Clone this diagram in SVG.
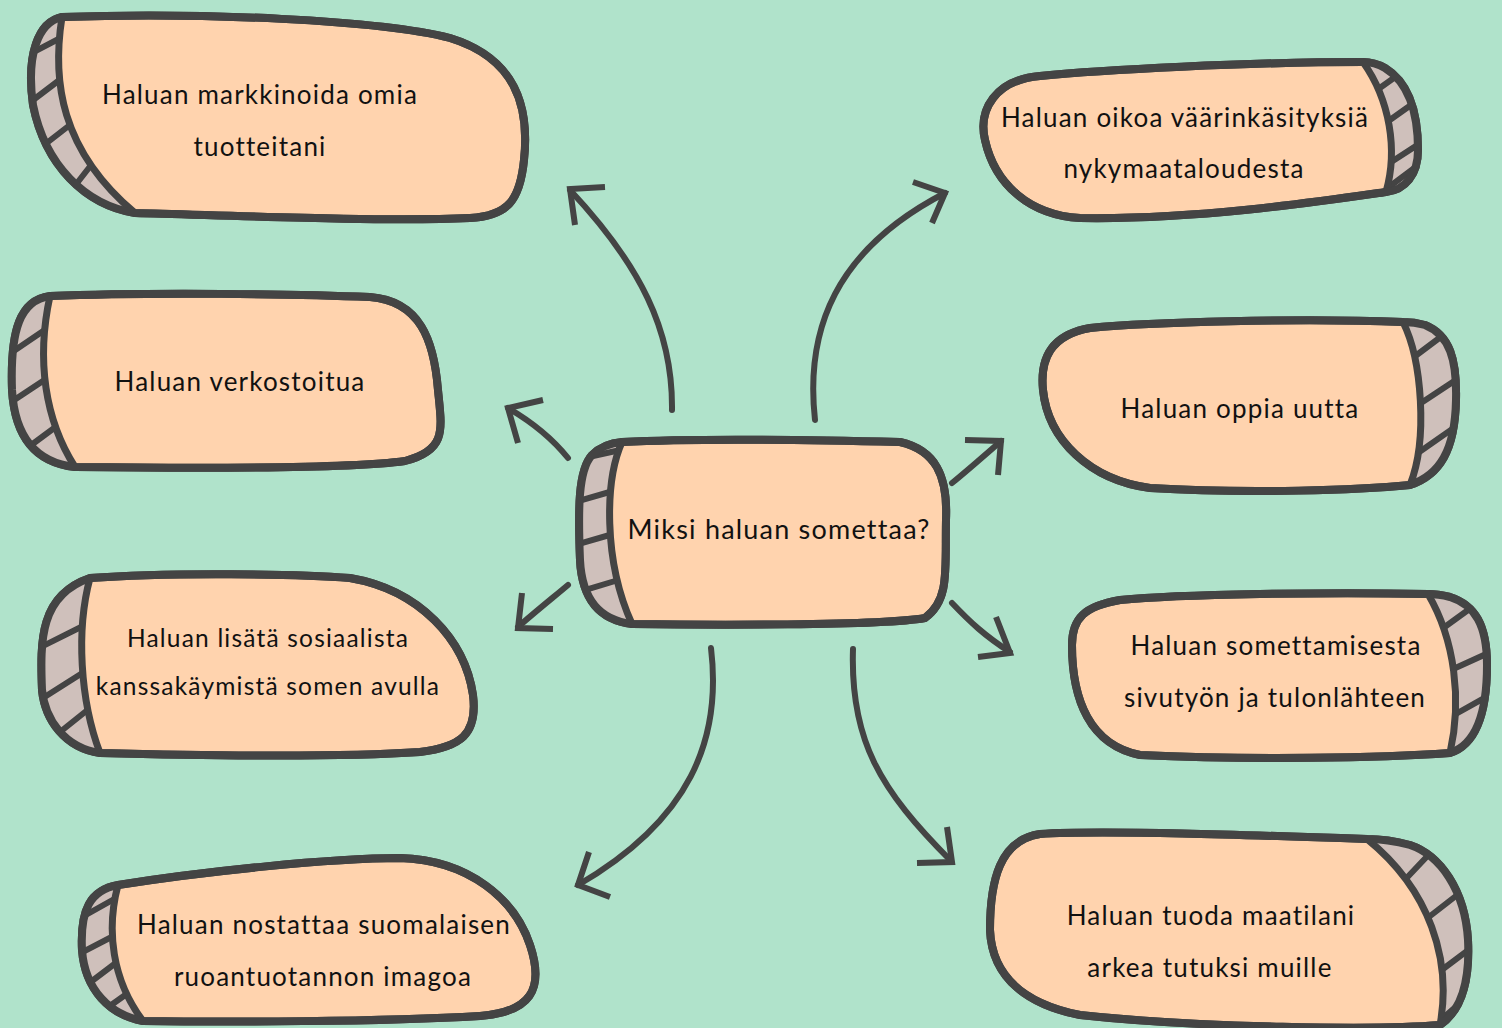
<svg xmlns="http://www.w3.org/2000/svg" width="1502" height="1028" viewBox="0 0 1502 1028">
<style>
.blob{fill:#FFD3AE;stroke:#444;stroke-width:8;stroke-linejoin:round}
.outline{fill:none;stroke:#444;stroke-width:8;stroke-linejoin:round}
.strip{fill:#CFC0BB;stroke:none}
.ln{fill:none;stroke:#444;stroke-width:7;stroke-linecap:round;stroke-linejoin:round}
.h{fill:none;stroke:#444;stroke-width:6;stroke-linecap:butt}
.arr{fill:none;stroke:#444;stroke-width:6;stroke-linecap:round}
.head{fill:none;stroke:#444;stroke-width:6;stroke-linecap:butt;stroke-linejoin:miter}
text{font-family:Lato,"Open Sans",sans-serif;font-size:26px;fill:#111;text-anchor:middle;letter-spacing:1.2px}
</style>
<defs>
<clipPath id="c1"><path d="M62 17 C52 80 60 150 135 213 C85 205 45 165 33 105 C26 55 38 22 62 17 Z"/></clipPath>
<clipPath id="c2"><path d="M50 296 C36 360 45 420 75 467 C38 463 15 440 12 390 C10 330 20 300 50 296 Z"/></clipPath>
<clipPath id="c3"><path d="M90 578 C76 630 80 700 100 753 C65 748 45 720 42 690 C40 640 40 595 90 578 Z"/></clipPath>
<clipPath id="c4"><path d="M118 885 C106 930 112 980 143 1021 C110 1015 85 990 82 950 C80 910 90 890 118 885 Z"/></clipPath>
<clipPath id="c5"><path d="M622 442 C605 480 603 560 632 624 C600 620 582 600 580 560 C578 510 578 470 592 455 C600 447 610 443 622 442 Z"/></clipPath>
<clipPath id="c6"><path d="M1363 62 C1390 100 1398 150 1386 192 C1405 190 1418 175 1418 150 C1418 110 1408 82 1385 68 C1378 64 1370 62 1363 62 Z"/></clipPath>
<clipPath id="c7"><path d="M1403 322 C1422 360 1428 440 1410 485 C1440 475 1455 450 1456 400 C1457 360 1450 335 1425 325 C1418 323 1410 322 1403 322 Z"/></clipPath>
<clipPath id="c8"><path d="M1428 594 C1455 640 1462 700 1450 753 C1475 745 1487 715 1487 665 C1487 625 1475 605 1450 597 C1442 595 1435 594 1428 594 Z"/></clipPath>
<clipPath id="c9"><path d="M1367 839 C1430 890 1452 960 1440 1025 C1462 1010 1470 980 1468 940 C1465 890 1440 855 1410 845 C1395 841 1380 839 1367 839 Z"/></clipPath>
</defs>
<rect width="1502" height="1028" fill="#B0E3CB"/>

<g id="node-markkinoida">
<path class="blob" d="M62 17 C200 12 380 20 450 38 C515 58 530 105 524 160 C520 200 508 216 470 218 C380 222 220 215 135 213 C85 205 45 165 33 105 C26 55 38 22 62 17 Z"/>
<path class="strip" d="M62 17 C52 80 60 150 135 213 C85 205 45 165 33 105 C26 55 38 22 62 17 Z"/>
<path class="h" clip-path="url(#c1)" d="M20 59 L70 33 M20 110 L70 72 M30 156 L75 121 M60 205 L95 160"/>
<path class="ln" d="M62 17 C52 80 60 150 135 213"/>
<path class="outline" d="M62 17 C200 12 380 20 450 38 C515 58 530 105 524 160 C520 200 508 216 470 218 C380 222 220 215 135 213 C85 205 45 165 33 105 C26 55 38 22 62 17 Z"/>
<text x="260" y="104">Haluan markkinoida omia</text>
<text x="260" y="156">tuotteitani</text>
</g>

<g id="node-verkostoitua">
<path class="blob" d="M50 296 C150 292 300 294 370 297 C420 301 434 340 438 390 C442 430 447 450 405 461 C340 470 160 468 75 467 C38 463 15 440 12 390 C10 330 20 300 50 296 Z"/>
<path class="strip" d="M50 296 C36 360 45 420 75 467 C38 463 15 440 12 390 C10 330 20 300 50 296 Z"/>
<path class="h" clip-path="url(#c2)" d="M5 357 L55 323 M5 406 L55 373 M15 457 L65 420"/>
<path class="ln" d="M50 296 C36 360 45 420 75 467"/>
<path class="outline" d="M50 296 C150 292 300 294 370 297 C420 301 434 340 438 390 C442 430 447 450 405 461 C340 470 160 468 75 467 C38 463 15 440 12 390 C10 330 20 300 50 296 Z"/>
<text x="240" y="391">Haluan verkostoitua</text>
</g>

<g id="node-sosiaalista">
<path class="blob" d="M90 578 C170 572 300 574 350 578 C420 590 465 640 473 695 C478 735 460 747 420 752 C330 758 180 755 100 753 C65 748 45 720 42 690 C40 640 40 595 90 578 Z"/>
<path class="strip" d="M90 578 C76 630 80 700 100 753 C65 748 45 720 42 690 C40 640 40 595 90 578 Z"/>
<path class="h" clip-path="url(#c3)" d="M35 650 L95 620 M35 703 L95 665 M50 740 L100 700"/>
<path class="ln" d="M90 578 C76 630 80 700 100 753"/>
<path class="outline" d="M90 578 C170 572 300 574 350 578 C420 590 465 640 473 695 C478 735 460 747 420 752 C330 758 180 755 100 753 C65 748 45 720 42 690 C40 640 40 595 90 578 Z"/>
<text x="268" y="647" style="font-size:24.5px">Haluan lisätä sosiaalista</text>
<text x="268" y="695" style="font-size:24.5px">kanssakäymistä somen avulla</text>
</g>

<g id="node-nostattaa">
<path class="blob" d="M118 885 C200 872 330 858 400 858 C470 860 515 900 530 945 C545 990 530 1012 480 1016 C380 1022 220 1022 143 1021 C110 1015 85 990 82 950 C80 910 90 890 118 885 Z"/>
<path class="strip" d="M118 885 C106 930 112 980 143 1021 C110 1015 85 990 82 950 C80 910 90 890 118 885 Z"/>
<path class="h" clip-path="url(#c4)" d="M75 921 L125 893 M75 956 L125 930 M80 990 L125 956 M100 1013 L135 988"/>
<path class="ln" d="M118 885 C106 930 112 980 143 1021"/>
<path class="outline" d="M118 885 C200 872 330 858 400 858 C470 860 515 900 530 945 C545 990 530 1012 480 1016 C380 1022 220 1022 143 1021 C110 1015 85 990 82 950 C80 910 90 890 118 885 Z"/>
<text x="324" y="934">Haluan nostattaa suomalaisen</text>
<text x="323" y="986">ruoantuotannon imagoa</text>
</g>

<g id="node-center">
<path class="blob" d="M622 442 C700 438 820 440 900 442 C935 450 948 475 946 520 C945 570 950 600 925 618 C880 626 700 625 632 624 C600 620 582 600 580 560 C578 510 578 470 592 455 C600 447 610 443 622 442 Z"/>
<path class="strip" d="M622 442 C605 480 603 560 632 624 C600 620 582 600 580 560 C578 510 578 470 592 455 C600 447 610 443 622 442 Z"/>
<path class="h" clip-path="url(#c5)" d="M575 460 L625 449 M575 502 L620 489 M575 545 L620 532 M575 593 L625 578"/>
<path class="ln" d="M622 442 C605 480 603 560 632 624"/>
<path class="outline" d="M622 442 C700 438 820 440 900 442 C935 450 948 475 946 520 C945 570 950 600 925 618 C880 626 700 625 632 624 C600 620 582 600 580 560 C578 510 578 470 592 455 C600 447 610 443 622 442 Z"/>
<text x="779" y="539" style="font-size:27px">Miksi haluan somettaa?</text>
</g>

<g id="node-oikoa">
<path class="blob" d="M1363 62 C1250 62 1100 70 1040 76 C995 80 978 110 985 140 C995 185 1030 215 1080 218 C1200 220 1330 200 1386 192 C1405 190 1418 175 1418 150 C1418 110 1408 82 1385 68 C1378 64 1370 62 1363 62 Z"/>
<path class="strip" d="M1363 62 C1390 100 1398 150 1386 192 C1405 190 1418 175 1418 150 C1418 110 1408 82 1385 68 C1378 64 1370 62 1363 62 Z"/>
<path class="h" clip-path="url(#c6)" d="M1370 95 L1405 70 M1380 127 L1425 95 M1385 166 L1425 140 M1385 190 L1425 160"/>
<path class="ln" d="M1363 62 C1390 100 1398 150 1386 192"/>
<path class="outline" d="M1363 62 C1250 62 1100 70 1040 76 C995 80 978 110 985 140 C995 185 1030 215 1080 218 C1200 220 1330 200 1386 192 C1405 190 1418 175 1418 150 C1418 110 1408 82 1385 68 C1378 64 1370 62 1363 62 Z"/>
<text x="1185" y="127">Haluan oikoa väärinkäsityksiä</text>
<text x="1184" y="178">nykymaataloudesta</text>
</g>

<g id="node-oppia">
<path class="blob" d="M1403 322 C1300 318 1150 322 1090 328 C1050 335 1040 360 1043 390 C1048 440 1090 480 1150 488 C1250 494 1360 490 1410 485 C1440 475 1455 450 1456 400 C1457 360 1450 335 1425 325 C1418 323 1410 322 1403 322 Z"/>
<path class="strip" d="M1403 322 C1422 360 1428 440 1410 485 C1440 475 1455 450 1456 400 C1457 360 1450 335 1425 325 C1418 323 1410 322 1403 322 Z"/>
<path class="h" clip-path="url(#c7)" d="M1410 360 L1450 330 M1415 407 L1465 374 M1415 455 L1465 420"/>
<path class="ln" d="M1403 322 C1422 360 1428 440 1410 485"/>
<path class="outline" d="M1403 322 C1300 318 1150 322 1090 328 C1050 335 1040 360 1043 390 C1048 440 1090 480 1150 488 C1250 494 1360 490 1410 485 C1440 475 1455 450 1456 400 C1457 360 1450 335 1425 325 C1418 323 1410 322 1403 322 Z"/>
<text x="1240" y="418">Haluan oppia uutta</text>
</g>

<g id="node-somettamisesta">
<path class="blob" d="M1428 594 C1330 592 1180 594 1120 600 C1085 606 1072 618 1072 645 C1072 700 1090 745 1140 755 C1250 760 1380 758 1450 753 C1475 745 1487 715 1487 665 C1487 625 1475 605 1450 597 C1442 595 1435 594 1428 594 Z"/>
<path class="strip" d="M1428 594 C1455 640 1462 700 1450 753 C1475 745 1487 715 1487 665 C1487 625 1475 605 1450 597 C1442 595 1435 594 1428 594 Z"/>
<path class="h" clip-path="url(#c8)" d="M1435 634 L1475 605 M1440 675 L1495 650 M1445 720 L1495 692"/>
<path class="ln" d="M1428 594 C1455 640 1462 700 1450 753"/>
<path class="outline" d="M1428 594 C1330 592 1180 594 1120 600 C1085 606 1072 618 1072 645 C1072 700 1090 745 1140 755 C1250 760 1380 758 1450 753 C1475 745 1487 715 1487 665 C1487 625 1475 605 1450 597 C1442 595 1435 594 1428 594 Z"/>
<text x="1276" y="655">Haluan somettamisesta</text>
<text x="1275" y="707">sivutyön ja tulonlähteen</text>
</g>

<g id="node-maatilani">
<path class="blob" d="M1367 839 C1250 835 1100 830 1040 834 C1000 840 990 880 990 930 C992 980 1030 1005 1080 1015 C1200 1028 1380 1030 1440 1025 C1462 1010 1470 980 1468 940 C1465 890 1440 855 1410 845 C1395 841 1380 839 1367 839 Z"/>
<path class="strip" d="M1367 839 C1430 890 1452 960 1440 1025 C1462 1010 1470 980 1468 940 C1465 890 1440 855 1410 845 C1395 841 1380 839 1367 839 Z"/>
<path class="h" clip-path="url(#c9)" d="M1400 885 L1435 848 M1425 920 L1470 885 M1435 975 L1475 945 M1435 1025 L1475 990"/>
<path class="ln" d="M1367 839 C1430 890 1452 960 1440 1025"/>
<path class="outline" d="M1367 839 C1250 835 1100 830 1040 834 C1000 840 990 880 990 930 C992 980 1030 1005 1080 1015 C1200 1028 1380 1030 1440 1025 C1462 1010 1470 980 1468 940 C1465 890 1440 855 1410 845 C1395 841 1380 839 1367 839 Z"/>
<text x="1211" y="925">Haluan tuoda maatilani</text>
<text x="1210" y="977">arkea tutuksi muille</text>
</g>

<g id="connectors">
<path class="arr" d="M672 410 C673 330 640 265 570 190"/>
<path class="head" d="M605 187 L570 189 L575 225"/>
<path class="arr" d="M815 420 C805 330 835 250 945 193"/>
<path class="head" d="M913 182 L945 193 L932 223"/>
<path class="arr" d="M568 458 C552 438 532 422 508 408"/>
<path class="head" d="M543 400 L508 408 L518 443"/>
<path class="arr" d="M568 585 C555 596 535 612 518 627"/>
<path class="head" d="M522 593 L518 628 L553 629"/>
<path class="arr" d="M711 648 C722 740 690 820 578 885"/>
<path class="head" d="M589 852 L578 885 L610 897"/>
<path class="arr" d="M853 649 C850 740 880 790 951 861"/>
<path class="head" d="M947 827 L952 862 L917 863"/>
<path class="arr" d="M952 483 C968 470 985 455 1001 441"/>
<path class="head" d="M965 440 L1001 441 L998 475"/>
<path class="arr" d="M952 603 C970 622 985 636 1010 652"/>
<path class="head" d="M996 617 L1010 653 L978 657"/>
</g>
</svg>
